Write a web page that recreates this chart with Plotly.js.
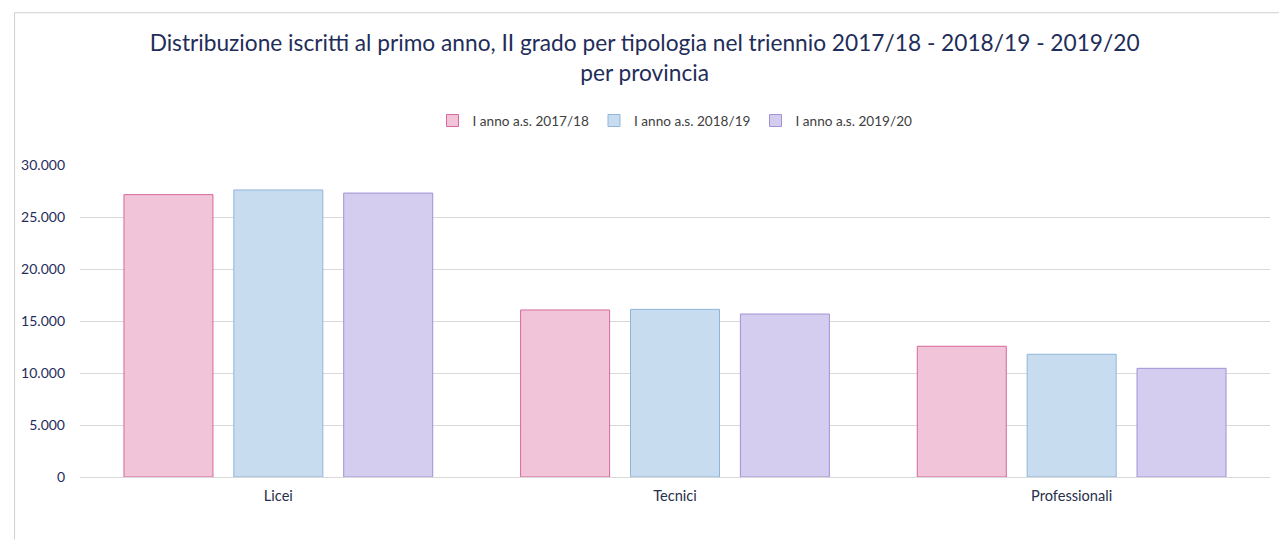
<!DOCTYPE html>
<html><head><meta charset="utf-8">
<script src="https://cdn.plot.ly/plotly-3.0.1.min.js"></script>
<style>html,body{margin:0;padding:0;background:#fff}#c{width:1279px;height:549px}</style>
</head><body><div id="c"></div>
<script>
const categories = ['Licei', 'Tecnici', 'Professionali'];
const seriesNames = ['I anno a.s. 2017/18', 'I anno a.s. 2018/19', 'I anno a.s. 2019/20'];
const v2017 = [27150, 16060, 12570];
const v2018 = [27600, 16120, 11800];
const v2019 = [27300, 15670, 10450];
const yTicks = [0, 5000, 10000, 15000, 20000, 25000, 30000];

const fills = ['#f2c4d9', '#c8dcf0', '#d5cdf0'];
const lines = ['#d6689a', '#8fb5da', '#9f92d4'];
const vals = [v2017, v2018, v2019];

const data = vals.map((v, i) => ({
  type: 'bar', x: categories, y: v, name: seriesNames[i],
  marker: {color: fills[i], line: {color: lines[i], width: 1}},
  hoverinfo: 'x+y'
}));

const font = "Lato, sans-serif";
const layout = {
  width: 1279, height: 549,
  margin: {l: 80, r: 9, t: 165, b: 72},
  paper_bgcolor: '#fff', plot_bgcolor: '#fff',
  separators: ',.',
  barmode: 'group', bargap: 0.169, bargroupgap: 0.19,
  title: {
    text: 'Distribuzione iscritti al primo anno, II grado per tipologia nel triennio 2017/18 - 2018/19 - 2019/20<br>per provincia',
    x: 0.504, xanchor: 'center', y: 0.907, yanchor: 'middle',
    font: {family: font, size: 22.7, color: '#1f2d5a'}
  },
  showlegend: true,
  legend: {
    orientation: 'h', x: 0.5, xanchor: 'center', y: 1.142, yanchor: 'middle',
    font: {family: font, size: 13.6, color: '#404040'},
    itemwidth: 30, tracegroupgap: 0, itemclick: false
  },
  xaxis: {
    type: 'category', showgrid: false, zeroline: false, showline: false,
    ticks: '', ticklabelstandoff: 8,
    tickfont: {family: font, size: 14.6, color: '#26304a'}
  },
  yaxis: {
    range: [0, 30000], tickvals: yTicks, tickformat: ',d',
    showgrid: true, gridcolor: '#d9d9d9', gridwidth: 1,
    zeroline: true, zerolinecolor: '#d9d9d9', showline: false,
    ticks: '', ticklabelstandoff: 14,
    tickfont: {family: font, size: 14, color: '#1f2d5a'}
  },
  shapes: [
    {type: 'line', xref: 'paper', yref: 'paper', x0: -0.055, x1: 1.01, y0: 1.488, y1: 1.488, line: {color: '#d0d0d0', width: 1}},
    {type: 'line', xref: 'paper', yref: 'paper', x0: -0.055, x1: -0.055, y0: 1.488, y1: -0.2, line: {color: '#d0d0d0', width: 1}}
  ]
};
Plotly.newPlot('c', data, layout, {displayModeBar: false, staticPlot: false});
</script></body></html>
